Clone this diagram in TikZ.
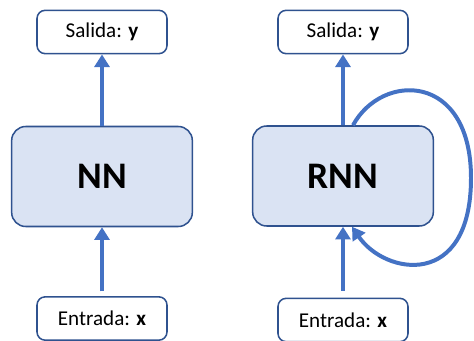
\documentclass[tikz,border=0pt]{standalone}
\usepackage{fontspec}
\setmainfont{Carlito}
\usetikzlibrary{arrows.meta,calc}

\definecolor{flechaazul}{HTML}{4472C4}
\definecolor{bordeazul}{HTML}{2F528F}
\definecolor{rellenoazul}{HTML}{DAE3F3}

\begin{document}
\begin{tikzpicture}[x=0.03cm, y=-0.03cm,
    iobox/.style={draw=bordeazul, line width=1.3pt, fill=white, rounded corners=7pt,
        minimum width=3.9cm, minimum height=1.3cm, font=\fontsize{18}{21}\selectfont},
    netbox/.style={draw=bordeazul, line width=1.3pt, fill=rellenoazul, rounded corners=12pt,
        minimum width=5.42cm, minimum height=3cm, font=\fontsize{32}{36}\selectfont\bfseries},
    flecha/.style={draw=flechaazul, line width=3.4pt,
        -{Triangle[width=0.45cm,length=0.38cm]}}]
    \useasboundingbox (0,0) rectangle (474,341);

    % red normal
    \node[iobox] (salidaA) at (102,32) {Salida: {\bfseries y}};
    \node[netbox] (nn) at (102,176.5) {NN};
    \node[iobox] (entradaA) at (102,318.5) {Entrada: {\bfseries x}};
    \draw[flecha] (nn) -- (salidaA);
    \draw[flecha, shorten <=4] (entradaA) -- (nn);

    % red recurrente
    \node[iobox] (salidaB) at (343,32) {Salida: {\bfseries y}};
    \node[netbox] (rnn) at (343,176) {RNN};
    \node[iobox] (entradaB) at (343,320) {Entrada: {\bfseries x}};
    \draw[flecha] (rnn) -- (salidaB);
    \draw[flecha, shorten <=6] (entradaB) -- (rnn);

    % lazo
    \coordinate (lazoini) at ($(rnn.north)+(10,0)$);
    \coordinate (lazofin) at ($(rnn.south)+(9,0)$);
    \draw[flecha] (lazoini) .. controls (382,72) and (471,72) .. (471,178)
        .. controls (471,290) and (385,275) .. (lazofin);
\end{tikzpicture}
\end{document}
